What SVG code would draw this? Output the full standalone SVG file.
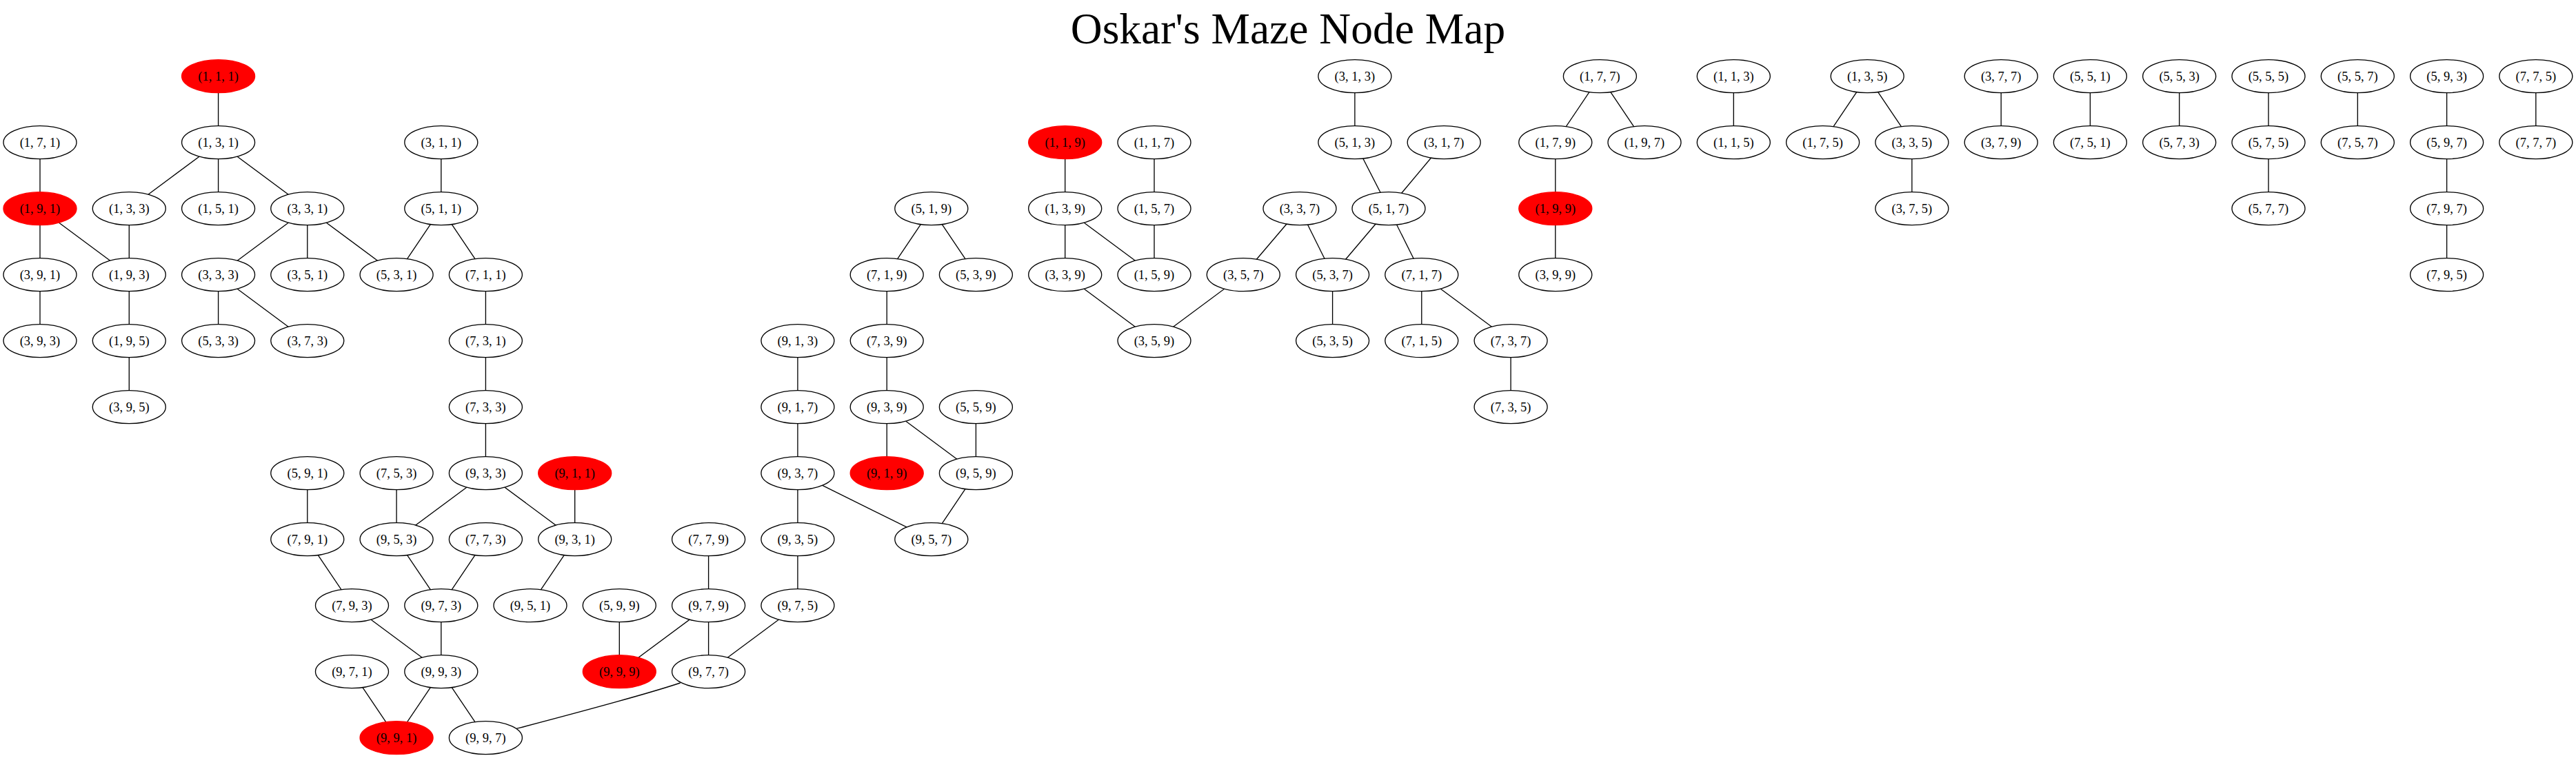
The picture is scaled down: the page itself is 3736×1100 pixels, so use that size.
<svg xmlns="http://www.w3.org/2000/svg" width="3736" height="1100" viewBox="0 0 3736 1100">
<style>
.node ellipse{fill:#fff;stroke:#000;stroke-width:1.33}
.node.red ellipse{fill:#f00;stroke:#f00}
.node text{font-family:"Liberation Serif","Times New Roman",serif;font-size:18.5px;text-anchor:middle;fill:#000}
#edges line,#edges path{stroke:#000;stroke-width:1.33;fill:none}
.title{font-family:"Liberation Serif","Times New Roman",serif;font-size:63.5px;text-anchor:middle;fill:#000}
</style>
<rect width="3736" height="1100" fill="#fff"/>
<text class="title" x="1868" y="62.5">Oskar's Maze Node Map</text>
<g id="edges">
<line x1="316.6" y1="110.7" x2="316.6" y2="206.7"/>
<line x1="316.6" y1="206.7" x2="187.3" y2="302.7"/>
<line x1="316.6" y1="206.7" x2="316.6" y2="302.7"/>
<line x1="316.6" y1="206.7" x2="445.8" y2="302.7"/>
<line x1="58" y1="206.7" x2="58" y2="302.7"/>
<line x1="58" y1="302.7" x2="58" y2="398.7"/>
<line x1="58" y1="302.7" x2="187.3" y2="398.7"/>
<line x1="187.3" y1="302.7" x2="187.3" y2="398.7"/>
<line x1="445.8" y1="302.7" x2="316.6" y2="398.7"/>
<line x1="445.8" y1="302.7" x2="445.8" y2="398.7"/>
<line x1="445.8" y1="302.7" x2="575.1" y2="398.7"/>
<line x1="639.8" y1="302.7" x2="575.1" y2="398.7"/>
<line x1="639.8" y1="206.7" x2="639.8" y2="302.7"/>
<line x1="639.8" y1="302.7" x2="704.4" y2="398.7"/>
<line x1="58" y1="398.7" x2="58" y2="494.7"/>
<line x1="187.3" y1="398.7" x2="187.3" y2="494.7"/>
<line x1="316.6" y1="398.7" x2="316.6" y2="494.7"/>
<line x1="316.6" y1="398.7" x2="445.8" y2="494.7"/>
<line x1="187.3" y1="494.7" x2="187.3" y2="590.7"/>
<line x1="704.4" y1="398.7" x2="704.4" y2="494.7"/>
<line x1="704.4" y1="494.7" x2="704.4" y2="590.7"/>
<line x1="704.4" y1="590.7" x2="704.4" y2="686.7"/>
<line x1="704.4" y1="686.7" x2="575.1" y2="782.7"/>
<line x1="704.4" y1="686.7" x2="833.7" y2="782.7"/>
<line x1="833.7" y1="686.7" x2="833.7" y2="782.7"/>
<line x1="445.8" y1="686.7" x2="445.8" y2="782.7"/>
<line x1="575.1" y1="686.7" x2="575.1" y2="782.7"/>
<line x1="445.8" y1="782.7" x2="510.5" y2="878.7"/>
<line x1="575.1" y1="782.7" x2="639.8" y2="878.7"/>
<line x1="704.4" y1="782.7" x2="639.8" y2="878.7"/>
<line x1="833.7" y1="782.7" x2="769" y2="878.7"/>
<line x1="510.5" y1="878.7" x2="639.8" y2="974.7"/>
<line x1="639.8" y1="878.7" x2="639.8" y2="974.7"/>
<line x1="510.5" y1="974.7" x2="575.1" y2="1070.7"/>
<line x1="639.8" y1="974.7" x2="575.1" y2="1070.7"/>
<line x1="639.8" y1="974.7" x2="704.4" y2="1070.7"/>
<path d="M986.7,991 C930,1010 800,1044 749.3,1057.3"/>
<line x1="898.3" y1="878.7" x2="898.3" y2="974.7"/>
<line x1="1027.6" y1="878.7" x2="898.3" y2="974.7"/>
<line x1="1027.6" y1="878.7" x2="1027.6" y2="974.7"/>
<line x1="1027.6" y1="782.7" x2="1027.6" y2="878.7"/>
<line x1="1156.9" y1="878.7" x2="1027.6" y2="974.7"/>
<line x1="1156.9" y1="782.7" x2="1156.9" y2="878.7"/>
<line x1="1156.9" y1="686.7" x2="1156.9" y2="782.7"/>
<line x1="1156.9" y1="590.7" x2="1156.9" y2="686.7"/>
<line x1="1156.9" y1="494.7" x2="1156.9" y2="590.7"/>
<line x1="1156.9" y1="686.7" x2="1350.8" y2="782.7"/>
<line x1="1415.4" y1="686.7" x2="1350.8" y2="782.7"/>
<line x1="1415.4" y1="590.7" x2="1415.4" y2="686.7"/>
<line x1="1286.2" y1="590.7" x2="1415.4" y2="686.7"/>
<line x1="1286.2" y1="590.7" x2="1286.2" y2="686.7"/>
<line x1="1286.2" y1="494.7" x2="1286.2" y2="590.7"/>
<line x1="1286.2" y1="398.7" x2="1286.2" y2="494.7"/>
<line x1="1350.8" y1="302.7" x2="1286.2" y2="398.7"/>
<line x1="1350.8" y1="302.7" x2="1415.4" y2="398.7"/>
<line x1="1544.7" y1="206.7" x2="1544.7" y2="302.7"/>
<line x1="1544.7" y1="302.7" x2="1544.7" y2="398.7"/>
<line x1="1544.7" y1="302.7" x2="1674" y2="398.7"/>
<line x1="1674" y1="206.7" x2="1674" y2="302.7"/>
<line x1="1674" y1="302.7" x2="1674" y2="398.7"/>
<line x1="1544.7" y1="398.7" x2="1674" y2="494.7"/>
<line x1="1803.3" y1="398.7" x2="1674" y2="494.7"/>
<line x1="1885" y1="302.7" x2="1803.3" y2="398.7"/>
<line x1="1885" y1="302.7" x2="1932.6" y2="398.7"/>
<line x1="1964.9" y1="110.7" x2="1964.9" y2="206.7"/>
<line x1="1964.9" y1="206.7" x2="2014" y2="302.7"/>
<line x1="2094.2" y1="206.7" x2="2014" y2="302.7"/>
<line x1="2014" y1="302.7" x2="1932.6" y2="398.7"/>
<line x1="2014" y1="302.7" x2="2061.8" y2="398.7"/>
<line x1="1932.6" y1="398.7" x2="1932.6" y2="494.7"/>
<line x1="2061.8" y1="398.7" x2="2061.8" y2="494.7"/>
<line x1="2061.8" y1="398.7" x2="2191.1" y2="494.7"/>
<line x1="2191.1" y1="494.7" x2="2191.1" y2="590.7"/>
<line x1="2320.4" y1="110.7" x2="2255.8" y2="206.7"/>
<line x1="2320.4" y1="110.7" x2="2385" y2="206.7"/>
<line x1="2255.8" y1="206.7" x2="2255.8" y2="302.7"/>
<line x1="2255.8" y1="302.7" x2="2255.8" y2="398.7"/>
<line x1="2514.3" y1="110.7" x2="2514.3" y2="206.7"/>
<line x1="2708.2" y1="110.7" x2="2643.6" y2="206.7"/>
<line x1="2708.2" y1="110.7" x2="2772.9" y2="206.7"/>
<line x1="2772.9" y1="206.7" x2="2772.9" y2="302.7"/>
<line x1="2902.2" y1="110.7" x2="2902.2" y2="206.7"/>
<line x1="3031.4" y1="110.7" x2="3031.4" y2="206.7"/>
<line x1="3160.7" y1="110.7" x2="3160.7" y2="206.7"/>
<line x1="3290" y1="110.7" x2="3290" y2="206.7"/>
<line x1="3290" y1="206.7" x2="3290" y2="302.7"/>
<line x1="3419.3" y1="110.7" x2="3419.3" y2="206.7"/>
<line x1="3548.6" y1="110.7" x2="3548.6" y2="206.7"/>
<line x1="3548.6" y1="206.7" x2="3548.6" y2="302.7"/>
<line x1="3548.6" y1="302.7" x2="3548.6" y2="398.7"/>
<line x1="3677.8" y1="110.7" x2="3677.8" y2="206.7"/>
</g>
<g id="n111" class="node red"><ellipse cx="316.6" cy="110.7" rx="53" ry="24"/><text x="316.6" y="117">(1, 1, 1)</text></g>
<g id="n171" class="node"><ellipse cx="58" cy="206.7" rx="53" ry="24"/><text x="58" y="213">(1, 7, 1)</text></g>
<g id="n131" class="node"><ellipse cx="316.6" cy="206.7" rx="53" ry="24"/><text x="316.6" y="213">(1, 3, 1)</text></g>
<g id="n311" class="node"><ellipse cx="639.8" cy="206.7" rx="53" ry="24"/><text x="639.8" y="213">(3, 1, 1)</text></g>
<g id="n191" class="node red"><ellipse cx="58" cy="302.7" rx="53" ry="24"/><text x="58" y="309">(1, 9, 1)</text></g>
<g id="n133" class="node"><ellipse cx="187.3" cy="302.7" rx="53" ry="24"/><text x="187.3" y="309">(1, 3, 3)</text></g>
<g id="n151" class="node"><ellipse cx="316.6" cy="302.7" rx="53" ry="24"/><text x="316.6" y="309">(1, 5, 1)</text></g>
<g id="n331" class="node"><ellipse cx="445.8" cy="302.7" rx="53" ry="24"/><text x="445.8" y="309">(3, 3, 1)</text></g>
<g id="n511" class="node"><ellipse cx="639.8" cy="302.7" rx="53" ry="24"/><text x="639.8" y="309">(5, 1, 1)</text></g>
<g id="n391" class="node"><ellipse cx="58" cy="398.7" rx="53" ry="24"/><text x="58" y="405">(3, 9, 1)</text></g>
<g id="n193" class="node"><ellipse cx="187.3" cy="398.7" rx="53" ry="24"/><text x="187.3" y="405">(1, 9, 3)</text></g>
<g id="n333" class="node"><ellipse cx="316.6" cy="398.7" rx="53" ry="24"/><text x="316.6" y="405">(3, 3, 3)</text></g>
<g id="n351" class="node"><ellipse cx="445.8" cy="398.7" rx="53" ry="24"/><text x="445.8" y="405">(3, 5, 1)</text></g>
<g id="n531" class="node"><ellipse cx="575.1" cy="398.7" rx="53" ry="24"/><text x="575.1" y="405">(5, 3, 1)</text></g>
<g id="n711" class="node"><ellipse cx="704.4" cy="398.7" rx="53" ry="24"/><text x="704.4" y="405">(7, 1, 1)</text></g>
<g id="n393" class="node"><ellipse cx="58" cy="494.7" rx="53" ry="24"/><text x="58" y="501">(3, 9, 3)</text></g>
<g id="n195" class="node"><ellipse cx="187.3" cy="494.7" rx="53" ry="24"/><text x="187.3" y="501">(1, 9, 5)</text></g>
<g id="n533" class="node"><ellipse cx="316.6" cy="494.7" rx="53" ry="24"/><text x="316.6" y="501">(5, 3, 3)</text></g>
<g id="n373" class="node"><ellipse cx="445.8" cy="494.7" rx="53" ry="24"/><text x="445.8" y="501">(3, 7, 3)</text></g>
<g id="n731" class="node"><ellipse cx="704.4" cy="494.7" rx="53" ry="24"/><text x="704.4" y="501">(7, 3, 1)</text></g>
<g id="n913" class="node"><ellipse cx="1156.9" cy="494.7" rx="53" ry="24"/><text x="1156.9" y="501">(9, 1, 3)</text></g>
<g id="n395" class="node"><ellipse cx="187.3" cy="590.7" rx="53" ry="24"/><text x="187.3" y="597">(3, 9, 5)</text></g>
<g id="n733" class="node"><ellipse cx="704.4" cy="590.7" rx="53" ry="24"/><text x="704.4" y="597">(7, 3, 3)</text></g>
<g id="n917" class="node"><ellipse cx="1156.9" cy="590.7" rx="53" ry="24"/><text x="1156.9" y="597">(9, 1, 7)</text></g>
<g id="n939" class="node"><ellipse cx="1286.2" cy="590.7" rx="53" ry="24"/><text x="1286.2" y="597">(9, 3, 9)</text></g>
<g id="n559" class="node"><ellipse cx="1415.4" cy="590.7" rx="53" ry="24"/><text x="1415.4" y="597">(5, 5, 9)</text></g>
<g id="n591" class="node"><ellipse cx="445.8" cy="686.7" rx="53" ry="24"/><text x="445.8" y="693">(5, 9, 1)</text></g>
<g id="n753" class="node"><ellipse cx="575.1" cy="686.7" rx="53" ry="24"/><text x="575.1" y="693">(7, 5, 3)</text></g>
<g id="n933" class="node"><ellipse cx="704.4" cy="686.7" rx="53" ry="24"/><text x="704.4" y="693">(9, 3, 3)</text></g>
<g id="n911" class="node red"><ellipse cx="833.7" cy="686.7" rx="53" ry="24"/><text x="833.7" y="693">(9, 1, 1)</text></g>
<g id="n937" class="node"><ellipse cx="1156.9" cy="686.7" rx="53" ry="24"/><text x="1156.9" y="693">(9, 3, 7)</text></g>
<g id="n919" class="node red"><ellipse cx="1286.2" cy="686.7" rx="53" ry="24"/><text x="1286.2" y="693">(9, 1, 9)</text></g>
<g id="n959" class="node"><ellipse cx="1415.4" cy="686.7" rx="53" ry="24"/><text x="1415.4" y="693">(9, 5, 9)</text></g>
<g id="n791" class="node"><ellipse cx="445.8" cy="782.7" rx="53" ry="24"/><text x="445.8" y="789">(7, 9, 1)</text></g>
<g id="n953" class="node"><ellipse cx="575.1" cy="782.7" rx="53" ry="24"/><text x="575.1" y="789">(9, 5, 3)</text></g>
<g id="n773" class="node"><ellipse cx="704.4" cy="782.7" rx="53" ry="24"/><text x="704.4" y="789">(7, 7, 3)</text></g>
<g id="n931" class="node"><ellipse cx="833.7" cy="782.7" rx="53" ry="24"/><text x="833.7" y="789">(9, 3, 1)</text></g>
<g id="n779" class="node"><ellipse cx="1027.6" cy="782.7" rx="53" ry="24"/><text x="1027.6" y="789">(7, 7, 9)</text></g>
<g id="n935" class="node"><ellipse cx="1156.9" cy="782.7" rx="53" ry="24"/><text x="1156.9" y="789">(9, 3, 5)</text></g>
<g id="n957" class="node"><ellipse cx="1350.8" cy="782.7" rx="53" ry="24"/><text x="1350.8" y="789">(9, 5, 7)</text></g>
<g id="n793" class="node"><ellipse cx="510.5" cy="878.7" rx="53" ry="24"/><text x="510.5" y="885">(7, 9, 3)</text></g>
<g id="n973" class="node"><ellipse cx="639.8" cy="878.7" rx="53" ry="24"/><text x="639.8" y="885">(9, 7, 3)</text></g>
<g id="n951" class="node"><ellipse cx="769" cy="878.7" rx="53" ry="24"/><text x="769" y="885">(9, 5, 1)</text></g>
<g id="n599" class="node"><ellipse cx="898.3" cy="878.7" rx="53" ry="24"/><text x="898.3" y="885">(5, 9, 9)</text></g>
<g id="n979" class="node"><ellipse cx="1027.6" cy="878.7" rx="53" ry="24"/><text x="1027.6" y="885">(9, 7, 9)</text></g>
<g id="n975" class="node"><ellipse cx="1156.9" cy="878.7" rx="53" ry="24"/><text x="1156.9" y="885">(9, 7, 5)</text></g>
<g id="n971" class="node"><ellipse cx="510.5" cy="974.7" rx="53" ry="24"/><text x="510.5" y="981">(9, 7, 1)</text></g>
<g id="n993" class="node"><ellipse cx="639.8" cy="974.7" rx="53" ry="24"/><text x="639.8" y="981">(9, 9, 3)</text></g>
<g id="n999" class="node red"><ellipse cx="898.3" cy="974.7" rx="53" ry="24"/><text x="898.3" y="981">(9, 9, 9)</text></g>
<g id="n977" class="node"><ellipse cx="1027.6" cy="974.7" rx="53" ry="24"/><text x="1027.6" y="981">(9, 7, 7)</text></g>
<g id="n991" class="node red"><ellipse cx="575.1" cy="1070.7" rx="53" ry="24"/><text x="575.1" y="1077">(9, 9, 1)</text></g>
<g id="n997" class="node"><ellipse cx="704.4" cy="1070.7" rx="53" ry="24"/><text x="704.4" y="1077">(9, 9, 7)</text></g>
<g id="n119" class="node red"><ellipse cx="1544.7" cy="206.7" rx="53" ry="24"/><text x="1544.7" y="213">(1, 1, 9)</text></g>
<g id="n117" class="node"><ellipse cx="1674" cy="206.7" rx="53" ry="24"/><text x="1674" y="213">(1, 1, 7)</text></g>
<g id="n519" class="node"><ellipse cx="1350.8" cy="302.7" rx="53" ry="24"/><text x="1350.8" y="309">(5, 1, 9)</text></g>
<g id="n139" class="node"><ellipse cx="1544.7" cy="302.7" rx="53" ry="24"/><text x="1544.7" y="309">(1, 3, 9)</text></g>
<g id="n157" class="node"><ellipse cx="1674" cy="302.7" rx="53" ry="24"/><text x="1674" y="309">(1, 5, 7)</text></g>
<g id="n337" class="node"><ellipse cx="1885" cy="302.7" rx="53" ry="24"/><text x="1885" y="309">(3, 3, 7)</text></g>
<g id="n517" class="node"><ellipse cx="2014" cy="302.7" rx="53" ry="24"/><text x="2014" y="309">(5, 1, 7)</text></g>
<g id="n199" class="node red"><ellipse cx="2255.8" cy="302.7" rx="53" ry="24"/><text x="2255.8" y="309">(1, 9, 9)</text></g>
<g id="n375" class="node"><ellipse cx="2772.9" cy="302.7" rx="53" ry="24"/><text x="2772.9" y="309">(3, 7, 5)</text></g>
<g id="n577" class="node"><ellipse cx="3290" cy="302.7" rx="53" ry="24"/><text x="3290" y="309">(5, 7, 7)</text></g>
<g id="n797" class="node"><ellipse cx="3548.6" cy="302.7" rx="53" ry="24"/><text x="3548.6" y="309">(7, 9, 7)</text></g>
<g id="n719" class="node"><ellipse cx="1286.2" cy="398.7" rx="53" ry="24"/><text x="1286.2" y="405">(7, 1, 9)</text></g>
<g id="n539" class="node"><ellipse cx="1415.4" cy="398.7" rx="53" ry="24"/><text x="1415.4" y="405">(5, 3, 9)</text></g>
<g id="n339" class="node"><ellipse cx="1544.7" cy="398.7" rx="53" ry="24"/><text x="1544.7" y="405">(3, 3, 9)</text></g>
<g id="n159" class="node"><ellipse cx="1674" cy="398.7" rx="53" ry="24"/><text x="1674" y="405">(1, 5, 9)</text></g>
<g id="n357" class="node"><ellipse cx="1803.3" cy="398.7" rx="53" ry="24"/><text x="1803.3" y="405">(3, 5, 7)</text></g>
<g id="n537" class="node"><ellipse cx="1932.6" cy="398.7" rx="53" ry="24"/><text x="1932.6" y="405">(5, 3, 7)</text></g>
<g id="n717" class="node"><ellipse cx="2061.8" cy="398.7" rx="53" ry="24"/><text x="2061.8" y="405">(7, 1, 7)</text></g>
<g id="n399" class="node"><ellipse cx="2255.8" cy="398.7" rx="53" ry="24"/><text x="2255.8" y="405">(3, 9, 9)</text></g>
<g id="n795" class="node"><ellipse cx="3548.6" cy="398.7" rx="53" ry="24"/><text x="3548.6" y="405">(7, 9, 5)</text></g>
<g id="n739" class="node"><ellipse cx="1286.2" cy="494.7" rx="53" ry="24"/><text x="1286.2" y="501">(7, 3, 9)</text></g>
<g id="n359" class="node"><ellipse cx="1674" cy="494.7" rx="53" ry="24"/><text x="1674" y="501">(3, 5, 9)</text></g>
<g id="n535" class="node"><ellipse cx="1932.6" cy="494.7" rx="53" ry="24"/><text x="1932.6" y="501">(5, 3, 5)</text></g>
<g id="n715" class="node"><ellipse cx="2061.8" cy="494.7" rx="53" ry="24"/><text x="2061.8" y="501">(7, 1, 5)</text></g>
<g id="n737" class="node"><ellipse cx="2191.1" cy="494.7" rx="53" ry="24"/><text x="2191.1" y="501">(7, 3, 7)</text></g>
<g id="n735" class="node"><ellipse cx="2191.1" cy="590.7" rx="53" ry="24"/><text x="2191.1" y="597">(7, 3, 5)</text></g>
<g id="n313" class="node"><ellipse cx="1964.9" cy="110.7" rx="53" ry="24"/><text x="1964.9" y="117">(3, 1, 3)</text></g>
<g id="n177" class="node"><ellipse cx="2320.4" cy="110.7" rx="53" ry="24"/><text x="2320.4" y="117">(1, 7, 7)</text></g>
<g id="n113" class="node"><ellipse cx="2514.3" cy="110.7" rx="53" ry="24"/><text x="2514.3" y="117">(1, 1, 3)</text></g>
<g id="n135" class="node"><ellipse cx="2708.2" cy="110.7" rx="53" ry="24"/><text x="2708.2" y="117">(1, 3, 5)</text></g>
<g id="n377" class="node"><ellipse cx="2902.2" cy="110.7" rx="53" ry="24"/><text x="2902.2" y="117">(3, 7, 7)</text></g>
<g id="n551" class="node"><ellipse cx="3031.4" cy="110.7" rx="53" ry="24"/><text x="3031.4" y="117">(5, 5, 1)</text></g>
<g id="n553" class="node"><ellipse cx="3160.7" cy="110.7" rx="53" ry="24"/><text x="3160.7" y="117">(5, 5, 3)</text></g>
<g id="n555" class="node"><ellipse cx="3290" cy="110.7" rx="53" ry="24"/><text x="3290" y="117">(5, 5, 5)</text></g>
<g id="n557" class="node"><ellipse cx="3419.3" cy="110.7" rx="53" ry="24"/><text x="3419.3" y="117">(5, 5, 7)</text></g>
<g id="n593" class="node"><ellipse cx="3548.6" cy="110.7" rx="53" ry="24"/><text x="3548.6" y="117">(5, 9, 3)</text></g>
<g id="n775" class="node"><ellipse cx="3677.8" cy="110.7" rx="53" ry="24"/><text x="3677.8" y="117">(7, 7, 5)</text></g>
<g id="n513" class="node"><ellipse cx="1964.9" cy="206.7" rx="53" ry="24"/><text x="1964.9" y="213">(5, 1, 3)</text></g>
<g id="n317" class="node"><ellipse cx="2094.2" cy="206.7" rx="53" ry="24"/><text x="2094.2" y="213">(3, 1, 7)</text></g>
<g id="n179" class="node"><ellipse cx="2255.8" cy="206.7" rx="53" ry="24"/><text x="2255.8" y="213">(1, 7, 9)</text></g>
<g id="n197" class="node"><ellipse cx="2385" cy="206.7" rx="53" ry="24"/><text x="2385" y="213">(1, 9, 7)</text></g>
<g id="n115" class="node"><ellipse cx="2514.3" cy="206.7" rx="53" ry="24"/><text x="2514.3" y="213">(1, 1, 5)</text></g>
<g id="n175" class="node"><ellipse cx="2643.6" cy="206.7" rx="53" ry="24"/><text x="2643.6" y="213">(1, 7, 5)</text></g>
<g id="n335" class="node"><ellipse cx="2772.9" cy="206.7" rx="53" ry="24"/><text x="2772.9" y="213">(3, 3, 5)</text></g>
<g id="n379" class="node"><ellipse cx="2902.2" cy="206.7" rx="53" ry="24"/><text x="2902.2" y="213">(3, 7, 9)</text></g>
<g id="n751" class="node"><ellipse cx="3031.4" cy="206.7" rx="53" ry="24"/><text x="3031.4" y="213">(7, 5, 1)</text></g>
<g id="n573" class="node"><ellipse cx="3160.7" cy="206.7" rx="53" ry="24"/><text x="3160.7" y="213">(5, 7, 3)</text></g>
<g id="n575" class="node"><ellipse cx="3290" cy="206.7" rx="53" ry="24"/><text x="3290" y="213">(5, 7, 5)</text></g>
<g id="n757" class="node"><ellipse cx="3419.3" cy="206.7" rx="53" ry="24"/><text x="3419.3" y="213">(7, 5, 7)</text></g>
<g id="n597" class="node"><ellipse cx="3548.6" cy="206.7" rx="53" ry="24"/><text x="3548.6" y="213">(5, 9, 7)</text></g>
<g id="n777" class="node"><ellipse cx="3677.8" cy="206.7" rx="53" ry="24"/><text x="3677.8" y="213">(7, 7, 7)</text></g>
</svg>
